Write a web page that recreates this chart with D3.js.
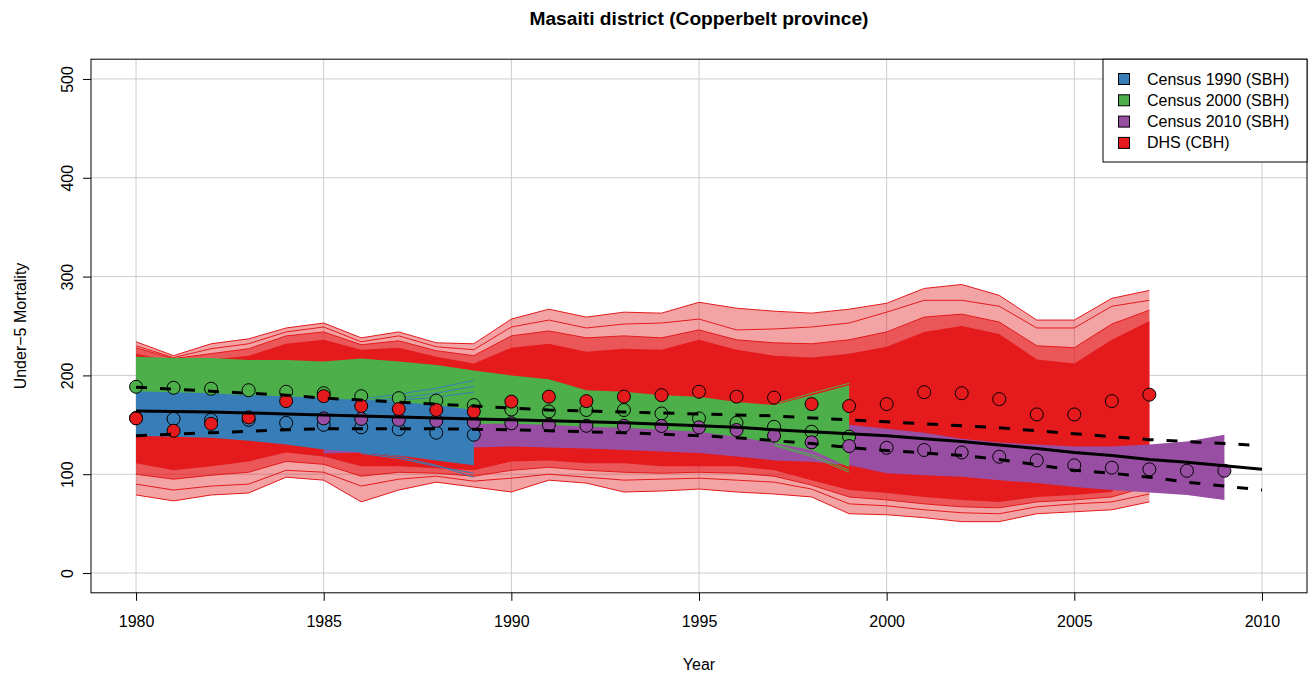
<!DOCTYPE html>
<html>
<head>
<meta charset="utf-8">
<script src="https://cdn.jsdelivr.net/npm/d3@7"></script>
<style>
  body { margin: 0; background: #fff; }
  text { font-family: "Liberation Sans", Arial, Helvetica, sans-serif; }
</style>
</head>
<body>
<svg id="chart" width="1315" height="677"></svg>
<script>
// ---- data -------------------------------------------------------------
const xTicks = [1980, 1985, 1990, 1995, 2000, 2005, 2010];
const yTicks = [0, 100, 200, 300, 400, 500];

// DHS (CBH) sample spread, 1980-2007
const dhsYears = [1980,1981,1982,1983,1984,1985,1986,1987,1988,1989,1990,1991,1992,1993,
                  1994,1995,1996,1997,1998,1999,2000,2001,2002,2003,2004,2005,2006,2007];
const dhsMax    = [234,220,232,237,248,253,238,244,233,232,257,267,259,264,263,274,268,265,263,267,273,288,292,281,256,256,278,286];
const dhsHi2    = [230,218,227,232,244,249,234,240,229,226,249,256,248,252,253,257,246,247,249,253,264,276,276,270,248,248,270,276];
const dhsHi3    = [228,217,222,227,240,244,231,235,225,220,240,245,238,240,238,246,236,233,232,236,244,259,262,254,230,228,252,266];
const dhsCoreHi = [222,214,216,220,232,236,226,228,219,212,228,232,224,227,226,236,226,220,218,222,229,244,250,242,216,212,236,255];
const dhsCoreLo = [111,104,108,113,122,118,108,108,106,104,113,114,111,111,108,108,108,104,94,84,81,77,74,72,77,79,82,128];
const dhsLo3    = [100,95,99,102,113,110,98,102,101,98,104,107,104,102,101,102,101,98,89,77,74,70,67,66,72,74,77,88];
const dhsLo2    = [90,84,88,90,104,102,88,95,98,93,96,100,97,94,95,96,94,92,85,70,68,64,61,60,67,70,72,80];
const dhsMin    = [79,73,79,81,97,94,72,84,92,87,82,94,91,82,83,85,82,80,77,60,59,56,52,52,60,62,64,72];
const dhsPoints = [156.5,144,151,157.5,174,179,169,166,165,163.5,173.5,178.5,174,178.5,180,183.5,178.5,177.5,171,169,171,183,182,176,160.5,160.5,174,180.5];

// Census 1990 (SBH), 1980-1989
const c1990Years  = [1980,1981,1982,1983,1984,1985,1986,1987,1988,1989];
const c1990Hi     = [184,183,182,180,179,177,175,173,170,165];
const c1990Lo     = [139,138,137,134,130,125,122,119,114,109];
const c1990Points = [157,156,155,155,152,150,147.5,145.5,142,140];
// outlying Census 1990 draws, 1986-1989
const c1990FanYears = [1986,1987,1988,1989];
const c1990Fan = [
  [176,181,187,195],
  [174,177,182,189],
  [173,175,178,183],
  [122,118,109,97],
  [121,116,108,101]
];

// Census 2000 (SBH), 1980-1999
const c2000Years  = [1980,1981,1982,1983,1984,1985,1986,1987,1988,1989,1990,1991,1992,1993,1994,1995,1996,1997,1998,1999];
const c2000Hi     = [219,217.5,217.5,215.5,215.5,214,217,214,210.5,205,200,196,185,183.5,180,178.5,173,170,180,190];
const c2000Lo     = [160,159,158,157,156,155,154,153,152,151,151,150,148,147,145,143,138,131.5,124.5,107];
const c2000Points = [188.5,187.5,186.5,185,183.5,182,179,177,174.5,170,165.5,163.5,165,165,161.5,156.5,152,148,143,138];
// outlying Census 2000 draws, 1997-1999
const c2000FanYears = [1997,1998,1999];
const c2000Fan = [
  [171,182,192],
  [129,118,102],
  [130,120,104]
];

// Census 2010 (SBH), 1985-2009
const c2010Years  = [1985,1986,1987,1988,1989,1990,1991,1992,1993,1994,1995,1996,1997,1998,1999,
                     2000,2001,2002,2003,2004,2005,2006,2007,2008,2009];
const c2010Hi     = [150,150,150,151,152,153,153,152,152,151,151,150,149,149,150,146,142,136,132,130,128,128,130,133,140];
const c2010Lo     = [121,122,124,126,127,128,127,126,124.5,123,121.5,118,114,112.5,109,101,99,97.5,94,91,87,84,81.5,79,74];
const c2010Points = [156.5,156,155,154,152.5,151.5,150,149,149,148.8,147.4,144.7,139,132.3,128.5,126.8,124.5,122,117.7,114,109,106.6,105,103.5,103.5];

// fitted trend with its interval, 1980-2010
const fitYears = [1980,1981,1982,1983,1984,1985,1986,1987,1988,1989,1990,1991,1992,1993,1994,1995,
                  1996,1997,1998,1999,2000,2001,2002,2003,2004,2005,2006,2007,2008,2009,2010];
const fitMid   = [164,163.5,163,162,161,160,159,158,157,156,155,154,153,152,150.5,149,147.5,145,143,141,139,136,133,129.5,126,122,119,115,112,108.5,105];
const fitUpper = [188,186,184,182,180,177,175,173,171,169,167,165,164,163,162,161,160,159,157,155,153,151,149,147,144,141,138,135,133,131,129];
const fitLower = [139,140.5,142,143.5,145,146,146,146,146,145.5,145,144,143,142,140.5,139,137,134,131,127,124,121.5,119,115,109.5,104,101,97,92,88,84];

const legendLabels = ["Census 1990 (SBH)", "Census 2000 (SBH)", "Census 2010 (SBH)", "DHS (CBH)"];
const legendColors = ["#377EB8", "#4DAF4A", "#984EA3", "#E41A1C"];

// ---- layout ------------------------------------------------------------
const svg = d3.select("#chart");
const plot = { left: 91, right: 1307, top: 59.2, bottom: 592.8 };

const x = d3.scaleLinear().domain([1978.8, 2011.2]).range([plot.left, plot.right]);
const y = d3.scaleLinear().domain([-20, 520]).range([plot.bottom, plot.top]);

const RED = legendColors[3], BLUE = legendColors[0], GREEN = legendColors[1], PURPLE = legendColors[2];

const zip = (yrs, ...cols) => yrs.map((yr, i) => ({ year: yr, v: cols.map(c => c[i]) }));

// grid
const grid = svg.append("g").attr("stroke", "#cccccc").attr("stroke-width", 1);
xTicks.forEach(t => grid.append("line")
  .attr("x1", x(t)).attr("x2", x(t)).attr("y1", plot.top).attr("y2", plot.bottom));
yTicks.forEach(t => grid.append("line")
  .attr("x1", plot.left).attr("x2", plot.right).attr("y1", y(t)).attr("y2", y(t)));

const band = (i0, i1) => d3.area().x(d => x(d.year)).y0(d => y(d.v[i0])).y1(d => y(d.v[i1]));
const line = (i) => d3.line().x(d => x(d.year)).y(d => y(d.v[i]));

// DHS spread: outer draws thin out, the middle of the ensemble is solid
const dhs = zip(dhsYears, dhsMin, dhsLo2, dhsLo3, dhsCoreLo, dhsCoreHi, dhsHi3, dhsHi2, dhsMax);
svg.append("path").attr("d", band(0, 7)(dhs)).attr("fill", RED).attr("fill-opacity", 0.4);
svg.append("path").attr("d", band(2, 5)(dhs)).attr("fill", RED).attr("fill-opacity", 0.55);
svg.append("path").attr("d", band(3, 4)(dhs)).attr("fill", RED);
[0, 1, 2, 5, 6, 7].forEach(i => svg.append("path").attr("d", line(i)(dhs))
  .attr("fill", "none").attr("stroke", RED).attr("stroke-width", 1));

// Census 2010 spread
const c2010 = zip(c2010Years, c2010Lo, c2010Hi);
svg.append("path").attr("d", band(0, 1)(c2010)).attr("fill", PURPLE);

// Census 2000 spread
const c2000 = zip(c2000Years, c2000Lo, c2000Hi);
svg.append("path").attr("d", band(0, 1)(c2000)).attr("fill", GREEN);
c2000Fan.forEach(f => svg.append("path").attr("d", line(0)(zip(c2000FanYears, f)))
  .attr("fill", "none").attr("stroke", GREEN).attr("stroke-width", 1));

// Census 1990 spread
const c1990 = zip(c1990Years, c1990Lo, c1990Hi);
svg.append("path").attr("d", band(0, 1)(c1990)).attr("fill", BLUE);
c1990Fan.forEach(f => svg.append("path").attr("d", line(0)(zip(c1990FanYears, f)))
  .attr("fill", "none").attr("stroke", BLUE).attr("stroke-width", 1));

// direct estimates
const drawPoints = (yrs, vals, col) => svg.append("g").selectAll("circle")
  .data(zip(yrs, vals)).join("circle")
  .attr("cx", d => x(d.year)).attr("cy", d => y(d.v[0])).attr("r", 6.5)
  .attr("fill", col).attr("stroke", "#000").attr("stroke-width", 1);
drawPoints(c1990Years, c1990Points, BLUE);
drawPoints(c2000Years, c2000Points, GREEN);
drawPoints(c2010Years, c2010Points, PURPLE);
drawPoints(dhsYears, dhsPoints, RED);

// trend and interval
const fit = zip(fitYears, fitMid, fitUpper, fitLower);
svg.append("path").attr("d", line(0)(fit)).attr("fill", "none")
  .attr("stroke", "#000").attr("stroke-width", 3);
[1, 2].forEach(i => svg.append("path").attr("d", line(i)(fit)).attr("fill", "none")
  .attr("stroke", "#000").attr("stroke-width", 3).attr("stroke-dasharray", "11,13"));

// frame
svg.append("rect").attr("x", plot.left).attr("y", plot.top)
  .attr("width", plot.right - plot.left).attr("height", plot.bottom - plot.top)
  .attr("fill", "none").attr("stroke", "#000").attr("stroke-width", 1);

// axes
const xAxis = svg.append("g").attr("transform", `translate(0,${plot.bottom})`)
  .call(d3.axisBottom(x).tickValues(xTicks).tickFormat(d3.format("d")).tickSize(8).tickPadding(15));
xAxis.select(".domain").remove();
xAxis.selectAll("text").attr("font-size", 16).attr("fill", "#000").attr("font-family", "Liberation Sans, Arial, sans-serif");

const yAxis = svg.append("g").attr("transform", `translate(${plot.left},0)`)
  .call(d3.axisLeft(y).tickValues(yTicks).tickSize(8).tickPadding(0));
yAxis.select(".domain").remove();
yAxis.selectAll(".tick text")
  .attr("x", null).attr("dy", null)
  .attr("font-size", 16).attr("fill", "#000").attr("font-family", "Liberation Sans, Arial, sans-serif")
  .attr("text-anchor", "middle")
  .attr("transform", "translate(-24,0) rotate(-90)")
  .attr("dominant-baseline", "central");

// titles
svg.append("text").attr("x", (plot.left + plot.right) / 2).attr("y", 25)
  .attr("text-anchor", "middle").attr("font-size", 19.2).attr("font-weight", "bold")
  .text("Masaiti district (Copperbelt province)");
svg.append("text").attr("x", (plot.left + plot.right) / 2).attr("y", 670)
  .attr("text-anchor", "middle").attr("font-size", 16).text("Year");
svg.append("text").attr("transform", `translate(26,${(plot.top + plot.bottom) / 2}) rotate(-90)`)
  .attr("text-anchor", "middle").attr("font-size", 16).text("Under\u22125 Mortality");

// legend
const lg = svg.append("g");
lg.append("rect").attr("x", 1103).attr("y", plot.top).attr("width", plot.right - 1103).attr("height", 162 - plot.top)
  .attr("fill", "#fff").attr("stroke", "#000").attr("stroke-width", 1);
legendLabels.forEach((lab, i) => {
  const cy = 79 + i * 21.3;
  lg.append("rect").attr("x", 1118.5).attr("y", cy - 5.5).attr("width", 11).attr("height", 11)
    .attr("fill", legendColors[i]).attr("stroke", "#000").attr("stroke-width", 1);
  lg.append("text").attr("x", 1147).attr("y", cy).attr("dominant-baseline", "central")
    .attr("font-size", 16).text(lab);
});
</script>
</body>
</html>
